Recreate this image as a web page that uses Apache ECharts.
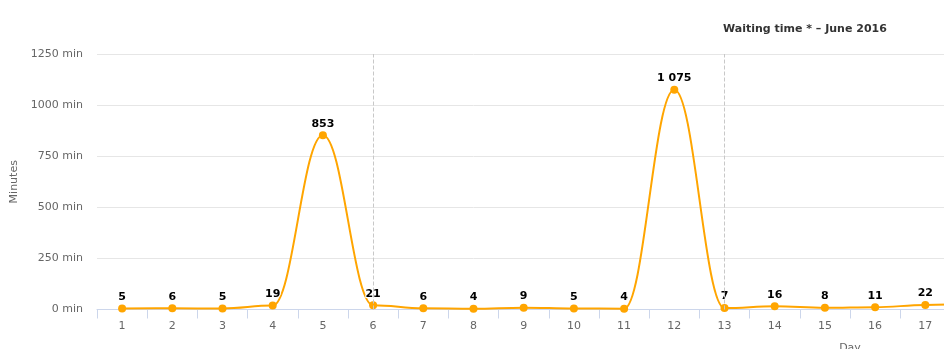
<!DOCTYPE html>
<html><head><meta charset="utf-8">
<script src="https://cdn.jsdelivr.net/npm/echarts@6/dist/echarts.min.js"></script>
<style>html,body{margin:0;padding:0;background:#fff;overflow:hidden}#c{width:1660px;height:349px}</style>
</head><body><div id="c"></div>
<script>
const days = Array.from({length:30},(_,i)=>String(i+1));
const waiting = [5,6,5,19,853,21,6,4,9,5,4,1075,7,16,8,11,22,30];
const yTicks = [0,250,500,750,1000,1250];
const markedDays = ['6','13'];
const titleText = 'Waiting time * \u2013 June 2016';

const FONT = 'DejaVu Sans';
const fmt = v => String(v).replace(/\B(?=(\d{3})+(?!\d))/g,' ');
const chart = echarts.init(document.getElementById('c'));
chart.setOption({
  animation:false,
  textStyle:{fontFamily:FONT},
  title:{text:titleText,left:718,top:19,textStyle:{fontFamily:FONT,fontSize:11,fontWeight:'bold',color:'#333'}},
  grid:{left:97,right:57,top:54,bottom:39.5,containLabel:false,outerBoundsMode:'none'},
  xAxis:{type:'category',data:days,boundaryGap:true,
    name:'Day',nameLocation:'middle',nameGap:33,
    nameTextStyle:{color:'#666',fontSize:11,fontFamily:FONT},
    axisLine:{lineStyle:{color:'#ccd6eb'}},
    axisTick:{show:true,length:9,lineStyle:{color:'#ccd6eb'}},
    axisLabel:{color:'#666',fontSize:11,margin:11,fontFamily:FONT},
    splitLine:{show:false}},
  yAxis:{type:'value',min:yTicks[0],max:yTicks[yTicks.length-1],interval:250,
    name:'Minutes',nameLocation:'middle',nameGap:68,
    nameTextStyle:{color:'#666',fontSize:11,fontFamily:FONT},
    axisLine:{show:false},axisTick:{show:false},
    axisLabel:{color:'#666',fontSize:11,margin:14,fontFamily:FONT,formatter:v=>v+' min'},
    splitLine:{lineStyle:{color:'#e6e6e6'}}},
  series:[{type:'line',data:waiting,smooth:0.4,smoothMonotone:'x',
    symbol:'circle',symbolSize:8,
    itemStyle:{color:'#FFA500'},
    lineStyle:{color:'#FFA500',width:2},
    label:{show:true,position:'top',distance:2,color:'#000',fontWeight:'bold',fontSize:11,fontFamily:FONT,
      textBorderColor:'#fff',textBorderWidth:2,formatter:p=>fmt(p.value)},
    markLine:{silent:true,symbol:['none','none'],label:{show:false},
      lineStyle:{color:'#c8c8c8',type:'dashed',width:1},
      data:markedDays.map(d=>({xAxis:d}))}
  }]
});
</script></body></html>
